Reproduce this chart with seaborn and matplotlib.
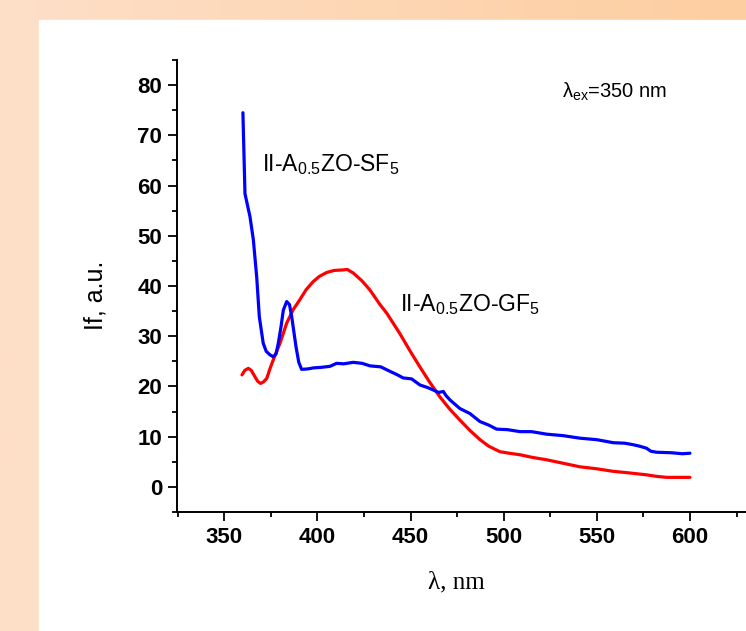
import numpy as np
import pandas as pd
import matplotlib
matplotlib.use("Agg")
import matplotlib.pyplot as plt
import seaborn as sns
from matplotlib.patches import Rectangle
from matplotlib.ticker import MultipleLocator

# spectra (wavelength in nm, intensity in a.u.)
lam_sf5 = [360, 361.1, 362.5, 363.8, 365.6, 367.4, 368.8, 370.9, 372.5, 374.5,
           376.3, 377.8, 379, 380.5, 381.7, 383.5, 385, 386.2, 387.5, 388.5,
           390, 391.5, 395, 398, 402, 406.7, 410.3, 414, 419.2, 424,
           428.2, 434, 439, 443, 446, 450.6, 455, 459, 462.2, 465,
           467.6, 469, 471.2, 476.5, 481.9, 487.3, 492, 496.2, 502, 508.8,
           515, 523, 532, 540.9, 550, 558.8, 565, 569.5, 573, 576.7,
           579, 582.1, 590, 596, 600]
int_sf5 = [74.5, 58.4, 56.0, 53.8, 49.2, 41.8, 33.9, 28.6, 27.0, 26.3,
           25.9, 26.5, 28.6, 32.0, 35.2, 36.9, 36.3, 33.9, 30.5, 27.9,
           24.8, 23.4, 23.5, 23.7, 23.8, 24.0, 24.6, 24.5, 24.8, 24.6,
           24.1, 23.9, 23.0, 22.3, 21.7, 21.5, 20.3, 19.8, 19.3, 18.8,
           19.0, 18.2, 17.3, 15.6, 14.6, 13.0, 12.3, 11.5, 11.4, 11.0,
           11.0, 10.5, 10.2, 9.7, 9.4, 8.8, 8.7, 8.4, 8.1, 7.7,
           7.1, 6.9, 6.8, 6.6, 6.7]

lam_gf5 = [359.5, 361, 362.9, 364.5, 366.5, 368, 369.5, 371, 372.8, 374.5,
           376.3, 379.9, 383.5, 387, 390.6, 394, 397.8, 401, 405, 409,
           413.9, 416, 419.2, 424, 428.2, 433.6, 437.2, 444.3, 450, 455,
           460, 465.8, 471, 476.5, 482, 487.3, 492, 498, 503, 508.8,
           515, 523, 532, 540.9, 550, 558.8, 567, 576.7, 582, 587.5,
           594, 600]
int_gf5 = [22.3, 23.2, 23.6, 23.2, 21.9, 21.0, 20.6, 20.9, 21.6, 23.5,
           25.3, 28.6, 32.6, 35.3, 37.3, 39.3, 40.9, 41.9, 42.7, 43.1,
           43.2, 43.3, 42.6, 41.0, 39.2, 36.3, 34.6, 30.5, 26.9, 23.9,
           21.0, 17.9, 15.5, 13.3, 11.2, 9.4, 8.1, 7.0, 6.7, 6.4,
           5.9, 5.4, 4.7, 4.0, 3.6, 3.1, 2.8, 2.4, 2.1, 1.9,
           1.9, 1.9]

x_ticks = [350, 400, 450, 500, 550, 600]
y_ticks = [0, 10, 20, 30, 40, 50, 60, 70, 80]

sns.set_style("ticks")
plt.rcParams["font.family"] = ["Liberation Sans", "DejaVu Sans"]
plt.rcParams["mathtext.fontset"] = "custom"
plt.rcParams["mathtext.rm"] = "Liberation Sans"
plt.rcParams["mathtext.it"] = "Liberation Sans:italic"
for key in ["text.color", "axes.labelcolor", "xtick.color", "ytick.color", "axes.edgecolor"]:
    plt.rcParams[key] = "black"

fig = plt.figure(figsize=(7.46, 6.31), dpi=100)

# peach slide background with a white panel
bg = fig.add_axes([0, 0, 1, 1], zorder=-10)
grad = np.linspace(0, 1, 256)
c0 = np.array([254, 223, 200]) / 255
c1 = np.array([253, 206, 160]) / 255
img = (c0[None, :] * (1 - grad[:, None]) + c1[None, :] * grad[:, None])[None, :, :]
bg.imshow(img, aspect="auto", extent=[0, 1, 0, 1])
bg.add_patch(Rectangle((39 / 746, 0), 1, 1 - 20 / 631, color="white"))
bg.set_xlim(0, 1)
bg.set_ylim(0, 1)
bg.axis("off")

ax = fig.add_axes([176.7 / 746, 119 / 631, 1 - 176.7 / 746, 452 / 631])
ax.patch.set_alpha(0)

sf5 = pd.DataFrame({"lam": lam_sf5, "I": int_sf5})
gf5 = pd.DataFrame({"lam": lam_gf5, "I": int_gf5})
sns.lineplot(data=gf5, x="lam", y="I", color="#ff0000", lw=2.3, ax=ax)
sns.lineplot(data=sf5, x="lam", y="I", color="#0000ff", lw=2.3, ax=ax)

ax.set_xlim(324.45, 630.1)
ax.set_ylim(-5, 85)
ax.set_xticks(x_ticks)
ax.set_yticks(y_ticks)
ax.xaxis.set_minor_locator(MultipleLocator(25))
ax.yaxis.set_minor_locator(MultipleLocator(5))
ax.tick_params(which="major", direction="out", length=6.5, width=1.3, pad=4,
               labelsize=16, colors="black")
ax.tick_params(which="minor", direction="out", length=3.6, width=1.3, colors="black")
for lbl in ax.get_xticklabels() + ax.get_yticklabels():
    lbl.set_fontweight("bold")

sns.despine(ax=ax, top=True, right=True)
for side in ["left", "bottom"]:
    ax.spines[side].set_linewidth(1.4)
    ax.spines[side].set_color("black")

ax.set_xlabel("λ, nm", family=["Liberation Serif"], fontsize=18, va="center")
ax.xaxis.set_label_coords(0.4906, -0.155)
ax.set_ylabel("If, a.u.", fontsize=18, va="center")
ax.yaxis.set_label_coords(-0.1435, 0.48)

ax.text(370.1, 62.9, "II-A$_{0.5}$ZO-SF$_5$", fontsize=16.5, ha="left", va="baseline")
ax.text(444.3, 35.1, "II-A$_{0.5}$ZO-GF$_5$", fontsize=16.5, ha="left", va="baseline")
ax.text(531.5, 77.4, "λ$_{\\mathrm{ex}}$=350 nm", fontsize=14.5, ha="left", va="baseline")

fig.savefig("out.png", dpi=100)
